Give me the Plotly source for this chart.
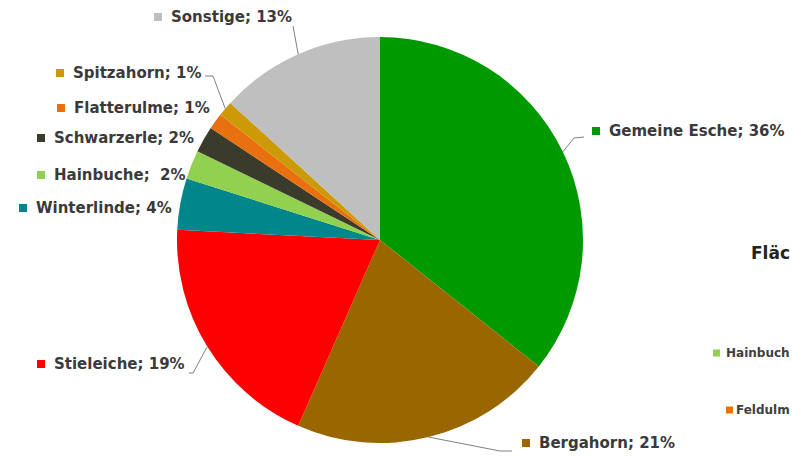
import math
import plotly.graph_objects as go

# Baumarten-Anteile (Prozent), im Uhrzeigersinn ab 12 Uhr
species = ["Gemeine Esche", "Bergahorn", "Stieleiche", "Winterlinde", "Hainbuche",
           "Schwarzerle", "Flatterulme", "Spitzahorn", "Sonstige"]
shares = [35.7, 20.9, 19.2, 4.1, 2.3, 2.1, 1.3, 1.2, 13.2]
colors = ["#009900", "#996600", "#FF0000", "#00868B", "#92D050",
          "#3B3B2C", "#E8700F", "#CC9A06", "#BFBFBF"]

W, H = 792, 456
CX, CY, R = 380, 240, 203          # pie centre / radius in pixels
FONT = "DejaVu Sans"

# label text left edge and vertical centre (pixels), plus separator
label_pos = {
    "Gemeine Esche": (608, 131, "; "),
    "Bergahorn": (538, 443, "; "),
    "Stieleiche": (53, 364, "; "),
    "Winterlinde": (35, 208, "; "),
    "Hainbuche": (53, 175, ";  "),
    "Schwarzerle": (53, 138, "; "),
    "Flatterulme": (73, 108, "; "),
    "Spitzahorn": (72, 73, "; "),
    "Sonstige": (170, 17, "; "),
}
# leader line waypoints from the slice edge to its label
leader_pts = {
    "Gemeine Esche": [(574, 138), (584, 137)],
    "Bergahorn": [(500, 451), (512, 451)],
    "Stieleiche": [(193, 373), (189, 373)],
    "Spitzahorn": [(213, 76), (205, 76)],
    "Sonstige": [(293, 26)],
}


def px(x):
    return x / W


def py(y):
    return 1 - y / H


fig = go.Figure(go.Pie(
    labels=species, values=shares, sort=False, direction="clockwise", rotation=0,
    marker=dict(colors=colors, line=dict(width=0)),
    textinfo="none", hoverinfo="label+percent", showlegend=False,
    domain=dict(x=[px(CX - R), px(CX + R)], y=[py(CY + R), py(CY - R)]),
))

total = sum(shares)
annotations, shapes = [], []
cum = 0.0
for name, val, col in zip(species, shares, colors):
    mid = (cum + val / 2) / total * 2 * math.pi
    cum += val
    lx, ly, sep = label_pos[name]
    pct = round(100 * val / total)
    annotations.append(dict(
        x=px(lx - 1), y=py(ly), xref="paper", yref="paper", xanchor="left", yanchor="middle",
        text=f"<b>{name}{sep}{pct}%</b>", showarrow=False,
        font=dict(family=FONT, size=15, color="#3A3A3A")))
    shapes.append(dict(type="rect", xref="paper", yref="paper",
                       x0=px(lx - 16), x1=px(lx - 8), y0=py(ly + 4), y1=py(ly - 4),
                       fillcolor=col, line=dict(width=0)))
    if name in leader_pts:
        ex, ey = CX + R * math.sin(mid), CY - R * math.cos(mid)
        pts = [(ex, ey)] + leader_pts[name]
        path = "M " + " L ".join(f"{px(x)},{py(y)}" for x, y in pts)
        shapes.append(dict(type="path", xref="paper", yref="paper", path=path,
                           line=dict(color="#7F7F7F", width=1)))

# neighbouring chart, only its left edge in view
annotations.append(dict(x=1, y=py(253), xref="paper", yref="paper", xanchor="right",
                        yanchor="middle", text="<b>Fläc</b>", showarrow=False,
                        font=dict(family=FONT, size=17, color="#222222")))
for txt, tx, ty, col in [("Hainbuch", 713, 353, "#92D050"), ("Feldulm", 726, 410, "#E8700F")]:
    annotations.append(dict(x=1, y=py(ty), xref="paper", yref="paper", xanchor="right",
                            yanchor="middle", text=f"<b>{txt}</b>", showarrow=False,
                            font=dict(family=FONT, size=12, color="#404040")))
    shapes.append(dict(type="rect", xref="paper", yref="paper",
                       x0=px(tx), x1=px(tx + 7), y0=py(ty + 3.5), y1=py(ty - 3.5),
                       fillcolor=col, line=dict(width=0)))

fig.update_layout(width=W, height=H, margin=dict(l=0, r=0, t=0, b=0),
                  paper_bgcolor="white", plot_bgcolor="white",
                  annotations=annotations, shapes=shapes)
fig.write_html("out.html")
